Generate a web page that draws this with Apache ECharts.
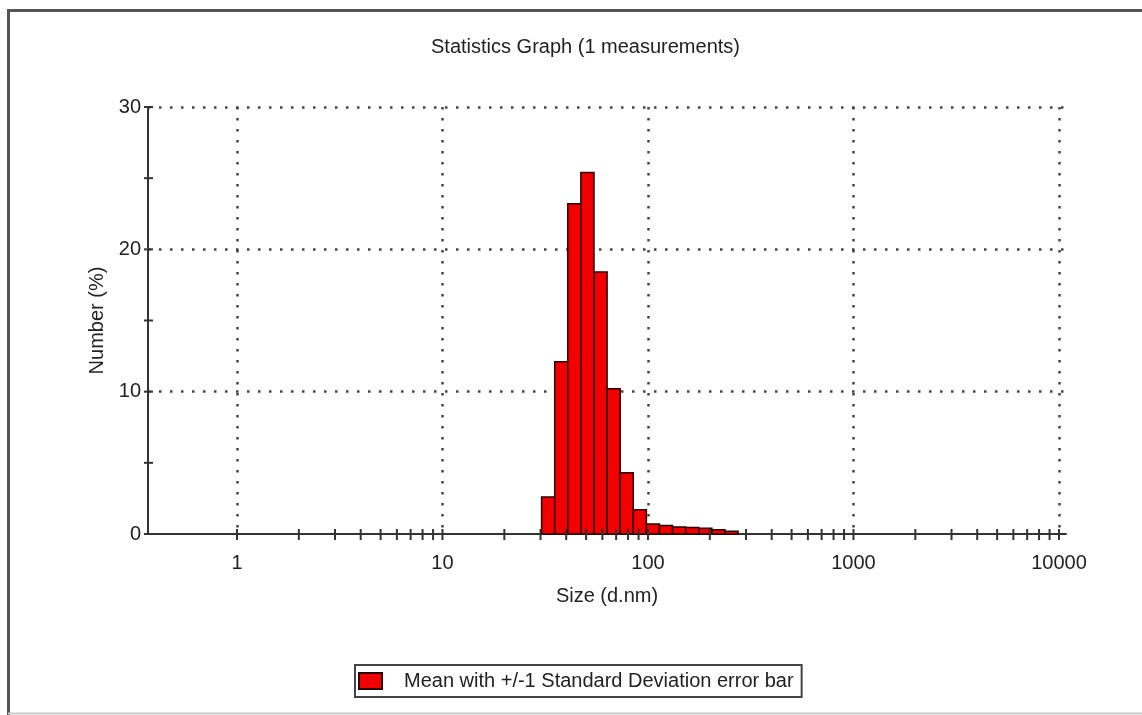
<!DOCTYPE html>
<html>
<head>
<meta charset="utf-8">
<title>Statistics Graph</title>
<script src="https://cdn.jsdelivr.net/npm/echarts@6/dist/echarts.min.js"></script>
<style>
  html, body { margin: 0; padding: 0; background: #fff; }
  #statChart { width: 1142px; height: 715px; }
</style>
</head>
<body>
<div id="statChart"></div>
<script>
const sizeClasses = [32.67, 37.84, 43.82, 50.75, 58.77, 68.06, 78.82, 91.28, 105.7, 122.4, 141.8, 164.2, 190.1, 220.2, 255.0]
const numberPct = [2.6, 12.1, 23.2, 25.4, 18.4, 10.2, 4.3, 1.7, 0.7, 0.6, 0.5, 0.45, 0.4, 0.3, 0.2]
const classRatio = 1.1581 // step between two size classes
const decades = [1, 10, 100, 1000, 10000]
const yTickValues = [0, 5, 10, 15, 20, 25, 30]
const legendName = 'Mean with +/-1 Standard Deviation error bar'

const font = 'Liberation Sans, Arial, sans-serif'
const axisColor = '#333'
const textColor = '#222'

//tick marks on the log axis: 1..9 for every decade
const xTickValues = []
decades.forEach(d => {
  if (d === 10000) return xTickValues.push(d)
  for (let m = 1; m < 10; m++) xTickValues.push(d * m)
})

//one bar per size class
const renderBar = (params, api) => {
  const half = Math.sqrt(classRatio)
  const size = api.value(0)
  const p0 = api.coord([size / half, api.value(1)])
  const p1 = api.coord([size * half, 0])
  return {
    type: 'rect',
    shape: { x: p0[0], y: p0[1], width: p1[0] - p0[0], height: p1[1] - p0[1] },
    style: { fill: '#f20000', stroke: '#2a0000', lineWidth: 1.5 }
  }
}

const renderXTick = (params, api) => {
  const p = api.coord([api.value(0), 0])
  return {
    type: 'line',
    shape: { x1: p[0], y1: p[1] - 5, x2: p[0], y2: p[1] + 6 },
    style: { stroke: axisColor, lineWidth: 2 }
  }
}

const renderYTick = (params, api) => {
  const p = api.coord([1, api.value(1)])
  const x = params.coordSys.x
  return {
    type: 'line',
    shape: { x1: x - 4, y1: p[1], x2: x + 5, y2: p[1] },
    style: { stroke: axisColor, lineWidth: 2 }
  }
}

const isDecade = v => {
  const l = Math.log10(v)
  return Math.abs(l - Math.round(l)) < 1e-6
}

const getInitEcharts = () => {
  const chartDom = document.getElementById('statChart')
  const myChart = echarts.init(chartDom)
  const gridLine = { show: true, lineStyle: { color: '#444', width: 2.5, type: [2.5, 8.5] } }
  const option = {
    backgroundColor: '#fff',
    animation: false,
    textStyle: { fontFamily: font },
    title: {
      text: 'Statistics Graph (1 measurements)',
      left: 426,
      top: 32,
      textStyle: { fontSize: 20, fontWeight: 'normal', color: textColor, fontFamily: font }
    },
    grid: { left: 148, top: 107, right: 76, bottom: 181 },
    xAxis: {
      type: 'log',
      logBase: 10,
      min: 0.369,
      max: 10820,
      name: 'Size (d.nm)',
      nameLocation: 'middle',
      nameGap: 52,
      nameTextStyle: { fontSize: 20, color: textColor },
      axisLine: { lineStyle: { color: axisColor, width: 2 } },
      axisTick: { show: false },
      axisLabel: {
        fontSize: 20, color: textColor, margin: 19,
        showMinLabel: false, showMaxLabel: false,
        formatter: v => (isDecade(v) ? String(Math.round(v)) : '')
      },
      splitLine: Object.assign({ showMinLine: false, showMaxLine: false }, gridLine)
    },
    yAxis: {
      type: 'value',
      min: 0,
      max: 30,
      interval: 10,
      name: 'Number (%)',
      nameLocation: 'middle',
      nameGap: 40,
      nameTextStyle: { fontSize: 20, color: textColor },
      axisLine: { show: true, lineStyle: { color: axisColor, width: 2 } },
      axisTick: { show: false },
      axisLabel: { fontSize: 20, color: textColor, margin: 7 },
      splitLine: Object.assign({ showMinLine: false }, gridLine)
    },
    legend: {
      left: 355,
      top: 665,
      data: [{ name: legendName, icon: 'rect' }],
      selectedMode: false,
      padding: [6, 8, 6, 3],
      itemWidth: 23,
      itemHeight: 16,
      backgroundColor: '#fff',
      borderColor: '#444',
      borderWidth: 2,
      textStyle: { fontSize: 20, color: textColor, fontFamily: font, padding: [0, 0, 0, 17] }
    },
    graphic: [
      { type: 'line', shape: { x1: 8.5, y1: 10, x2: 8.5, y2: 715 }, style: { stroke: '#555', lineWidth: 3 } },
      { type: 'line', shape: { x1: 7, y1: 10.5, x2: 1142, y2: 10.5 }, style: { stroke: '#555', lineWidth: 3 } },
      { type: 'line', shape: { x1: 8, y1: 713.5, x2: 1142, y2: 713.5 }, style: { stroke: '#ccc', lineWidth: 2 } }
    ],
    series: [
      {
        name: legendName,
        type: 'custom',
        renderItem: renderBar,
        itemStyle: { color: '#f20000', borderColor: '#2a0000', borderWidth: 1.5 },
        data: sizeClasses.map((s, i) => [s, numberPct[i]]),
        z: 3
      },
      {
        type: 'custom',
        renderItem: renderXTick,
        data: xTickValues.map(v => [v, 0]),
        silent: true,
        z: 4
      },
      {
        type: 'custom',
        renderItem: renderYTick,
        data: yTickValues.map(v => [1, v]),
        silent: true,
        z: 4
      }
    ]
  }
  myChart.setOption(option)
}

getInitEcharts()
</script>
</body>
</html>
